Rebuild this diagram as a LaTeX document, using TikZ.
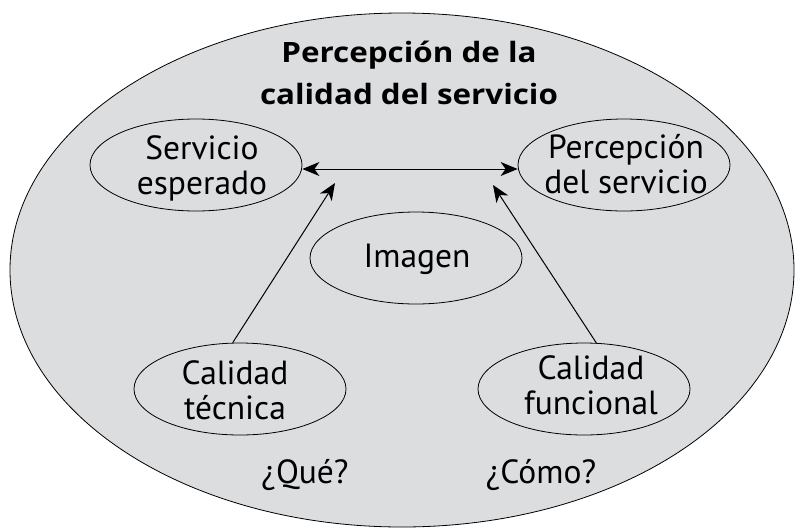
\documentclass[tikz,border=0pt]{standalone}
\usepackage{fontspec}
\setmainfont{PT Sans}
\newfontfamily\titlefont[FakeStretch=1.12]{Open Sans}
\usetikzlibrary{arrows.meta,shapes.geometric}
\definecolor{bggray}{RGB}{220,221,223}
\begin{document}
\begin{tikzpicture}[x=1pt,y=-1pt,
  lbl/.style={font=\fontsize{33.5}{35}\selectfont, align=center, inner sep=0pt},
  oval/.style={draw, ellipse, line width=0.8pt, minimum width=212pt, minimum height=92pt, inner sep=0pt},
  conn/.style={line width=1pt, -{Stealth[length=17pt,width=14pt,inset=5pt]}}]
\useasboundingbox (0,0) rectangle (795,528);
\node[draw, ellipse, fill=bggray, line width=0.8pt, minimum width=784pt, minimum height=514pt] (big) at (402,270) {};
\node[font=\titlefont\bfseries\fontsize{28}{42}\selectfont, align=center, inner sep=0pt] (title) at (409,73) {Percepción de la\\calidad del servicio};
\node[oval] (se) at (196,165) {};
\node[lbl] (set) at (202,168) {Servicio\\esperado};
\node[oval] (ps) at (624,165) {};
\node[lbl] (pst) at (626,164) {Percepción\\del servicio};
\node[oval] (im) at (416,258) {};
\node[lbl, anchor=base] (imt) at (417,267) {Imagen};
\node[oval] (ct) at (240,389) {};
\node[lbl] (ctt) at (235,390) {Calidad\\técnica};
\node[oval] (cf) at (584,389) {};
\node[lbl] (cft) at (591,385) {Calidad\\funcional};
\node[lbl, anchor=base] (que) at (305,483) {¿Qué?};
\node[lbl, anchor=base] (como) at (541,483) {¿Cómo?};
\coordinate (a1) at (335,183);
\coordinate (a2) at (493,185);
\draw[line width=1pt, {Stealth[length=17pt,width=14pt,inset=5pt]}-{Stealth[length=17pt,width=14pt,inset=5pt]}] (se.east |- 0,169) -- (ps.west |- 0,169);
\draw[conn] (ct.99) -- (a1);
\draw[conn] (cf.75) -- (a2);
\end{tikzpicture}
\end{document}
